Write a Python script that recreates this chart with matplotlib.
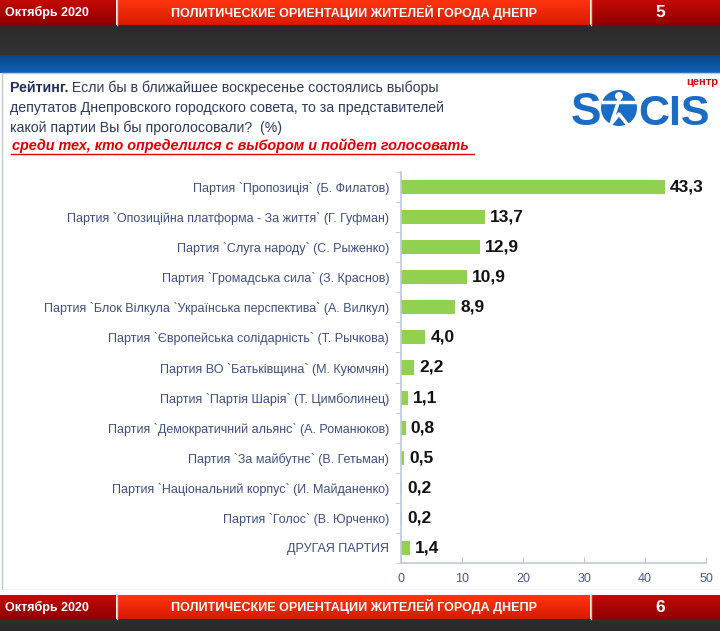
import numpy as np
import matplotlib
matplotlib.use("Agg")
import matplotlib.pyplot as plt
from matplotlib.patches import Rectangle, Circle

plt.rcParams['font.family'] = ['Liberation Sans', 'DejaVu Sans']

parties = [
    "Партия `Пропозиція` (Б. Филатов)",
    "Партия `Опозиційна платформа - За життя` (Г. Гуфман)",
    "Партия `Слуга народу` (С. Рыженко)",
    "Партия `Громадська сила` (З. Краснов)",
    "Партия `Блок Вілкула `Українська перспектива` (А. Вилкул)",
    "Партия `Європейська солідарність` (Т. Рычкова)",
    "Партия ВО `Батьківщина` (М. Куюмчян)",
    "Партия `Партія Шарія` (Т. Цимболинец)",
    "Партия `Демократичний альянс` (А. Романюков)",
    "Партия `За майбутнє` (В. Гетьман)",
    "Партия `Національний корпус` (И. Майданенко)",
    "Партия `Голос` (В. Юрченко)",
    "ДРУГАЯ ПАРТИЯ",
]
values = [43.3, 13.7, 12.9, 10.9, 8.9, 4.0, 2.2, 1.1, 0.8, 0.5, 0.2, 0.2, 1.4]
value_labels = ["43,3", "13,7", "12,9", "10,9", "8,9", "4,0", "2,2",
                "1,1", "0,8", "0,5", "0,2", "0,2", "1,4"]
x_ticks = [0, 10, 20, 30, 40, 50]

W, H = 720, 631
fig = plt.figure(figsize=(W / 100, H / 100), dpi=100)
fig.patch.set_facecolor("white")

# background slide, pixel coordinates
bg = fig.add_axes([0, 0, 1, 1], zorder=0)
bg.set_xlim(0, W)
bg.set_ylim(H, 0)
bg.axis("off")


def grad(x0, x1, y0, y1, c_top, c_bot):
    c_top = np.array(matplotlib.colors.to_rgb(c_top))
    c_bot = np.array(matplotlib.colors.to_rgb(c_bot))
    t = np.linspace(0, 1, 32)[:, None, None]
    img = c_top * (1 - t) + c_bot * t
    bg.imshow(img, extent=(x0, x1, y1, y0), aspect="auto", interpolation="bilinear", zorder=1)


def red_band(y0, y1, page):
    grad(0, 116, y0, y1, "#c40a06", "#8e0000")
    grad(117, 590, y0, y1, "#ff3510", "#d81a00")
    grad(591, W, y0, y1, "#c40a06", "#8e0000")
    bg.plot([116.5, 116.5], [y0, y1], color="#f3b0a0", lw=1, zorder=2)
    bg.plot([590.5, 590.5], [y0, y1], color="#f3b0a0", lw=1, zorder=2)
    ym = (y0 + y1) / 2
    bg.text(5, ym, "Октябрь 2020", color="white", fontsize=9, fontweight="bold",
            va="center", ha="left", zorder=3)
    bg.text(354, ym, "ПОЛИТИЧЕСКИЕ ОРИЕНТАЦИИ ЖИТЕЛЕЙ ГОРОДА ДНЕПР", color="white",
            fontsize=9, fontweight="bold", va="center", ha="center", zorder=3)
    bg.text(660, ym, page, color="white", fontsize=12.5, fontweight="bold",
            va="center", ha="center", zorder=3)


red_band(0, 25, "5")
grad(0, W, 25, 55, "#2a2a2a", "#333333")
grad(0, W, 55, 73, "#0a4688", "#1062b8")
bg.add_patch(Rectangle((2, 73), W, 517, facecolor="white", edgecolor="#b8cce4", lw=1, zorder=1))
bg.add_patch(Rectangle((0, 590), W, 5, facecolor="white", edgecolor="none", zorder=1))
red_band(595, 619, "6")
grad(0, W, 619, H, "#2e2e2e", "#2a2a2a")

# title
t1 = bg.text(10, 92, "Рейтинг.", color="#1f3060", fontsize=10.2, fontweight="bold",
             va="baseline", ha="left", zorder=3)
bg.annotate(" Если бы в ближайшее воскресенье состоялись выборы", xy=(1, 0), xycoords=t1,
            color="#2c3a5c", fontsize=10.2, va="bottom", ha="left", zorder=3)
bg.text(10, 112, "депутатов Днепровского городского совета, то за представителей",
        color="#2c3a5c", fontsize=10.2, va="baseline", ha="left", zorder=3)
bg.text(10, 132, "какой партии Вы бы проголосовали?  (%)",
        color="#2c3a5c", fontsize=10.2, va="baseline", ha="left", zorder=3)
bg.text(12, 150, "среди тех, кто определился с выбором и пойдет голосовать",
        color="#e00000", fontsize=10.4, fontweight="bold", style="italic",
        va="baseline", ha="left", zorder=3)
bg.plot([11, 474], [153.5, 153.5], color="#e00000", lw=1, zorder=3)

# logo
bg.text(571, 125, "S", color="#1a6cc4", fontsize=33, fontweight="bold", va="baseline",
        ha="left", zorder=3)
bg.add_patch(Circle((619, 108), 18, facecolor="#1a6cc4", edgecolor="none", zorder=3))
bg.add_patch(Circle((619, 96), 4, facecolor="white", edgecolor="none", zorder=4))
bg.plot([603, 635], [102, 102], color="white", lw=2.5, zorder=4)
bg.plot([619, 611, 619, 627], [100, 124, 114, 124], color="white", lw=2.5, zorder=4)
bg.text(638, 125, "CIS", color="#1a6cc4", fontsize=31, fontweight="bold", va="baseline",
        ha="left", zorder=3)
bg.text(718, 85, "центр", color="#d01010", fontsize=8, fontweight="bold", va="baseline",
        ha="right", zorder=3)

# chart
ax = fig.add_axes([401 / W, 1 - 563 / H, 305 / W, (563 - 172) / H], zorder=2)
ax.set_facecolor("none")
y = np.arange(len(parties))
ax.barh(y, values, height=0.47, color="#92d050", edgecolor="none")
for yi, v, lab in zip(y, values, value_labels):
    ax.annotate(lab, xy=(v, yi), xytext=(3.5, 0), textcoords="offset points",
                va="center", ha="left", fontsize=12.5, fontweight="bold", color="#111111")

ax.set_xlim(0, 50)
ax.set_ylim(len(parties) - 0.5, -0.5)
ax.set_xticks(x_ticks)
ax.set_xticklabels([str(v) for v in x_ticks], color="#4a5a8a", fontsize=9)
ax.set_yticks(y)
ax.set_yticklabels(parties, color="#3e4e80", fontsize=9)
ax.set_yticks(np.arange(-0.5, len(parties), 1), minor=True)
ax.tick_params(axis="y", which="major", length=0, pad=8.5)
ax.tick_params(axis="y", which="minor", length=4, color="#c0c8d8", direction="out")
ax.tick_params(axis="x", which="major", length=4, color="#c0c8d8", direction="in", pad=7)
for s in ["top", "right"]:
    ax.spines[s].set_visible(False)
for s in ["left", "bottom"]:
    ax.spines[s].set_color("#c0c8d8")
    ax.spines[s].set_linewidth(1.2)

fig.savefig("out.png", dpi=100)
